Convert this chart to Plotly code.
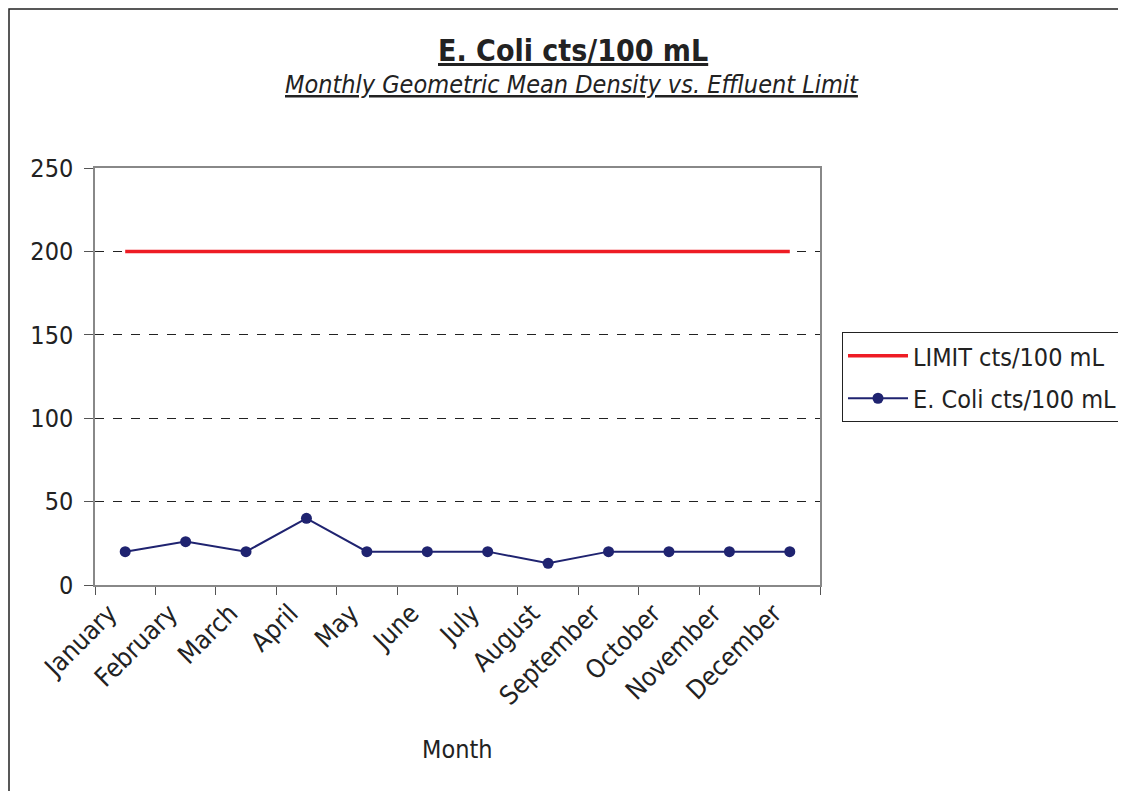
import plotly.graph_objects as go

months = ["January", "February", "March", "April", "May", "June", "July",
          "August", "September", "October", "November", "December"]
limit_vals = [200] * 12
ecoli_vals = [20, 26, 20, 40, 20, 20, 20, 13, 20, 20, 20, 20]

OFF = 8  # page body margin
W, H = 1126 - OFF, 791 - OFF
L, R, T, B = 95 - OFF, 820 - OFF, 168 - OFF, 585 - OFF
pw, ph = R - L, B - T

def px(x):
    return (x - OFF - L) / pw

def py(y):
    return (B - (y - OFF)) / ph

FONT = "DejaVu Sans Condensed, DejaVu Sans"

fig = go.Figure()
fig.add_trace(go.Scatter(
    x=months, y=limit_vals, mode="lines", name="LIMIT cts/100 mL",
    legendgroup="a",
    line=dict(color="#ee1c24", width=3.5),
))
fig.add_trace(go.Scatter(
    x=months, y=ecoli_vals, mode="lines+markers", name="E. Coli cts/100 mL",
    legendgroup="b",
    line=dict(color="#1f2370", width=2),
    marker=dict(color="#1f2370", size=11),
))

fig.update_layout(
    width=W, height=H,
    margin=dict(l=L, r=W - R, t=T, b=H - B, autoexpand=False),
    paper_bgcolor="white", plot_bgcolor="white",
    font=dict(family=FONT, size=24, color="#222"),
    showlegend=True,
    legend=dict(
        x=px(842), y=py(332), xanchor="left", yanchor="top",
        bordercolor="#222", borderwidth=1, bgcolor="white",
        font=dict(family=FONT, size=25, color="#222"),
        tracegroupgap=7, traceorder="grouped", itemwidth=60,
    ),
    xaxis=dict(
        type="category", tickson="boundaries", ticks="outside", ticklen=8,
        tickcolor="#555", tickangle=-45, showline=True, linecolor="#888",
        linewidth=1.5, mirror=True, showgrid=False, zeroline=False,
        tickfont=dict(family=FONT, size=26, color="#222"),
        ticklabelshift=-16, ticklabelstandoff=1, automargin=False,
        range=[-0.5, 11.5],
    ),
    yaxis=dict(
        range=[0, 250], dtick=50, ticks="outside", ticklen=9, tickcolor="#555",
        showline=True, linecolor="#888", linewidth=1.5, mirror=True,
        showgrid=True, gridcolor="#222", griddash="dash", gridwidth=1,
        zeroline=False, tickfont=dict(family=FONT, size=25, color="#222"),
        ticklabelstandoff=6, automargin=False,
    ),
    annotations=[
        dict(text="<b>E. Coli cts/100 mL</b>", xref="paper", yref="paper",
             x=px(573), y=py(50), xanchor="center", yanchor="middle",
             showarrow=False,
             font=dict(family=FONT, size=30, color="#222", lineposition="under")),
        dict(text="<i>Monthly Geometric Mean Density vs. Effluent Limit</i>",
             xref="paper", yref="paper", x=px(572), y=py(85),
             xanchor="center", yanchor="middle", showarrow=False,
             font=dict(family=FONT, size=25, color="#222", lineposition="under")),
        dict(text="Month", xref="paper", yref="paper", x=px(457), y=py(749),
             xanchor="center", yanchor="middle", showarrow=False,
             font=dict(family=FONT, size=25, color="#222")),
    ],
    shapes=[
        dict(type="rect", xref="paper", yref="paper",
             x0=px(9), x1=px(1140), y0=py(800), y1=py(9),
             line=dict(color="#222", width=1.5), layer="below"),
    ],
)

fig.write_html("out.html")
